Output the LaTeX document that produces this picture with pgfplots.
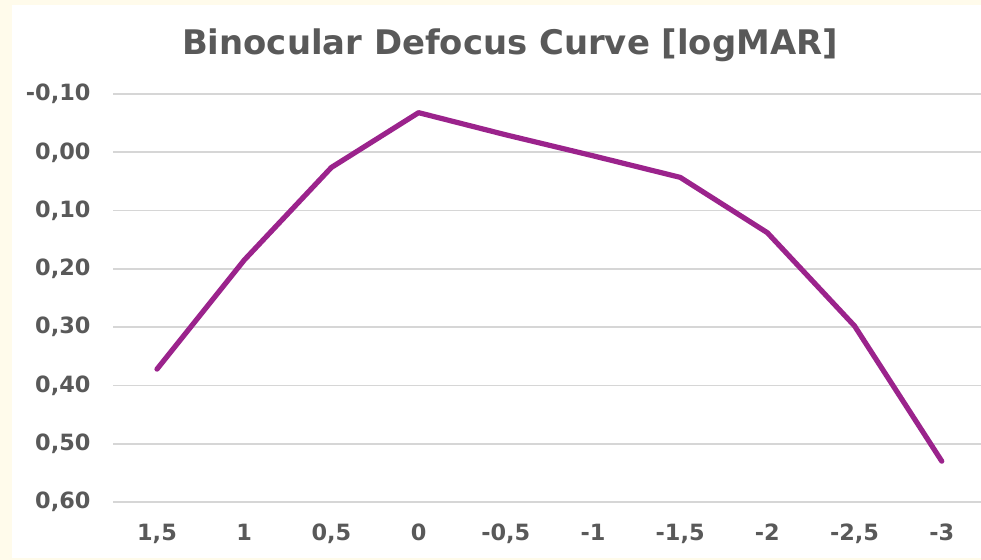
\documentclass[border=0pt]{standalone}
\usepackage{fontspec}
\setmainfont{DejaVu Sans}
\usepackage{pgfplots}
\pgfplotsset{compat=1.18}
\definecolor{cream}{RGB}{255,251,235}
\definecolor{labelgray}{RGB}{89,89,89}
\definecolor{gridgray}{RGB}{214,214,214}
\definecolor{linepurple}{RGB}{155,35,140}
\begin{document}
\begin{tikzpicture}
\path[use as bounding box, fill=cream] (0pt,0pt) rectangle (735.75pt,420pt);
\fill[white] (9pt,1.5pt) rectangle (735.75pt,416.25pt);
\node[font=\bfseries\fontsize{25.4}{25.4}\selectfont, text=labelgray, anchor=base, inner sep=0pt]
  at (382.5pt,378.75pt) {Binocular Defocus Curve [logMAR]};
\begin{axis}[
  at={(85.05pt,43.5pt)}, anchor=south west,
  scale only axis, width=650.7pt, height=306pt,
  xmin=-0.5, xmax=9.45, ymin=-0.1, ymax=0.6,
  y dir=reverse,
  ytick={-0.1,0,0.1,0.2,0.3,0.4,0.5,0.6},
  xtick={0,1,2,3,4,5,6,7,8,9},
  xticklabels={{1,5},1,{0,5},0,{-0,5},-1,{-1,5},-2,{-2,5},-3},
  ymajorgrids, grid style={draw=gridgray, line width=1.2pt},
  axis line style={draw=none}, major tick length=0pt, tick style={draw=none},
  tick label style={font=\bfseries\fontsize{16.8}{16.8}\selectfont, text=labelgray, inner sep=0pt},
  yticklabel style={anchor=east, xshift=-17pt},
  xticklabel style={anchor=north, yshift=-16.5pt},
  /pgf/number format/.cd, fixed, fixed zerofill, precision=2, use comma, assume math mode=true,
]
\addplot[color=linepurple, line width=3.9pt, line join=round, line cap=round] coordinates {
  (0,0.372) (1,0.185) (2,0.026) (3,-0.068) (4,-0.030) (5,0.006) (6,0.043) (7,0.138) (8,0.298) (9,0.530)
};
\end{axis}
\end{tikzpicture}
\end{document}
